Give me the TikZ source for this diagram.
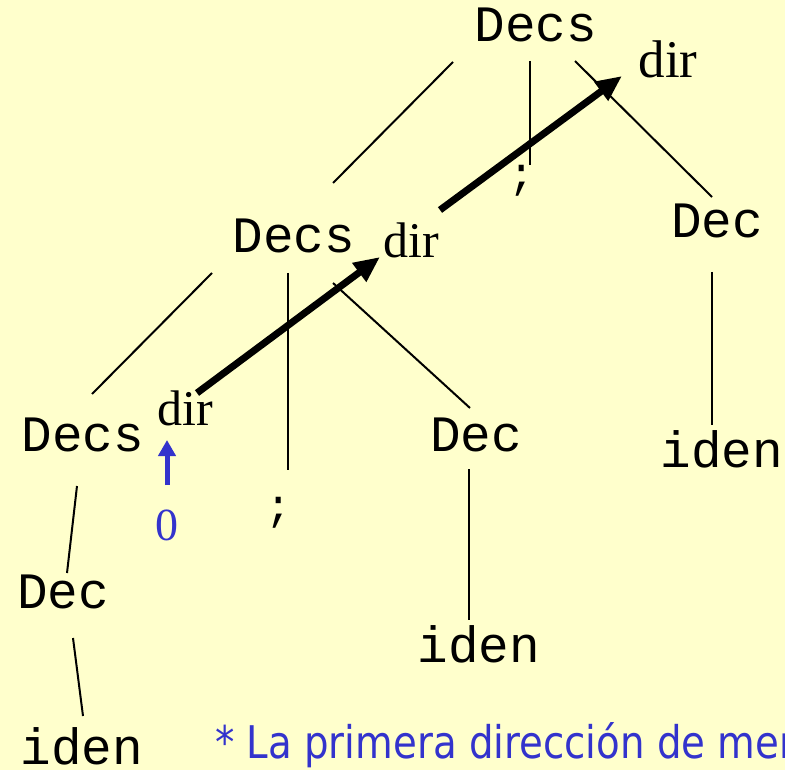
\documentclass[tikz,border=0pt]{standalone}
\usepackage{fontspec}
\usetikzlibrary{arrows.meta}
\newfontfamily\monof{Liberation Mono}
\newfontfamily\seriff{Liberation Serif}
\newfontfamily\sansf[FakeStretch=0.86]{DejaVu Sans}
\definecolor{bgyellow}{HTML}{FFFFCC}
\definecolor{noteblue}{HTML}{3333CC}
\tikzset{
  sym/.style={anchor=base, inner sep=0pt, font=\monof\fontsize{51}{51}\selectfont},
  attr/.style={anchor=base, inner sep=0pt, font=\seriff\fontsize{50}{50}\selectfont},
  treeline/.style={line width=2pt, line cap=butt},
  vline/.style={line width=2.6pt},
  flow/.style={line width=7pt, -{Triangle[length=26pt,width=22pt]}},
  zeroarrow/.style={draw=noteblue, line width=5pt, -{Triangle[length=16pt,width=17pt]}},
}
\begin{document}
\begin{tikzpicture}[x=1pt,y=-1pt]
\fill[bgyellow] (0,0) rectangle (785,770);
\clip (0,0) rectangle (785,770);
\useasboundingbox (0,0) rectangle (785,770);
% nodes
\node[sym] (topDecs) at (536,42) {Decs};
\node[attr, font=\seriff\fontsize{53}{53}\selectfont] (topdir) at (668,78) {dir};
\node[sym, font=\monof\fontsize{44}{44}\selectfont] (topsemi) at (522,189) {;};
\node[sym] (rightDec) at (717,238) {Dec};
\node[sym] (rightiden) at (722,467) {iden};
\node[sym] (midDecs) at (294,253) {Decs};
\node[attr] (middir) at (411,258) {dir};
\node[sym, font=\monof\fontsize{44}{44}\selectfont] (midsemi) at (279,520) {;};
\node[sym] (midDec) at (476,451) {Dec};
\node[sym] (mididen) at (479,662) {iden};
\node[sym] (leftDecs) at (83,451) {Decs};
\node[attr] (leftdir) at (185,425) {dir};
\node[anchor=base, inner sep=0pt, text=noteblue, font=\seriff\fontsize{46}{46}\selectfont] (zero) at (167,540) {0};
\node[sym] (leftDec) at (63,608) {Dec};
\node[sym] (leftiden) at (82,764) {iden};
\node[anchor=base west, inner sep=0pt, text=noteblue, font=\sansf\fontsize{45}{45}\selectfont] (note) at (215,758) {* La primera dirección de memoria};
% line end points
\coordinate (a1) at (453,62);  \coordinate (a2) at (333,183);
\coordinate (b1) at (530,61);  \coordinate (b2) at (530,165);
\coordinate (c1) at (575,61);  \coordinate (c2) at (712,197);
\coordinate (d1) at (712,272); \coordinate (d2) at (712,425);
\coordinate (e1) at (212,273); \coordinate (e2) at (92,394);
\coordinate (f1) at (288,273); \coordinate (f2) at (288,470);
\coordinate (g1) at (333,283); \coordinate (g2) at (470,408);
\coordinate (h1) at (469,469); \coordinate (h2) at (469,620);
\coordinate (i1) at (77,486);  \coordinate (i2) at (67,573);
\coordinate (j1) at (73,638);  \coordinate (j2) at (83,716);
\coordinate (k1) at (197,393); \coordinate (k2) at (380,257);
\coordinate (l1) at (440,210); \coordinate (l2) at (622,76);
\coordinate (m1) at (167,485); \coordinate (m2) at (167,440);
% connectors
\draw[treeline] (a1) -- (a2);
\draw[vline] (b1) -- (b2);
\draw[treeline] (c1) -- (c2);
\draw[vline] (d1) -- (d2);
\draw[treeline] (e1) -- (e2);
\draw[vline] (f1) -- (f2);
\draw[treeline] (g1) -- (g2);
\draw[vline] (h1) -- (h2);
\draw[treeline] (i1) -- (i2);
\draw[treeline] (j1) -- (j2);
\draw[flow] (k1) -- (k2);
\draw[flow] (l1) -- (l2);
\draw[zeroarrow] (m1) -- (m2);
\end{tikzpicture}
\end{document}
